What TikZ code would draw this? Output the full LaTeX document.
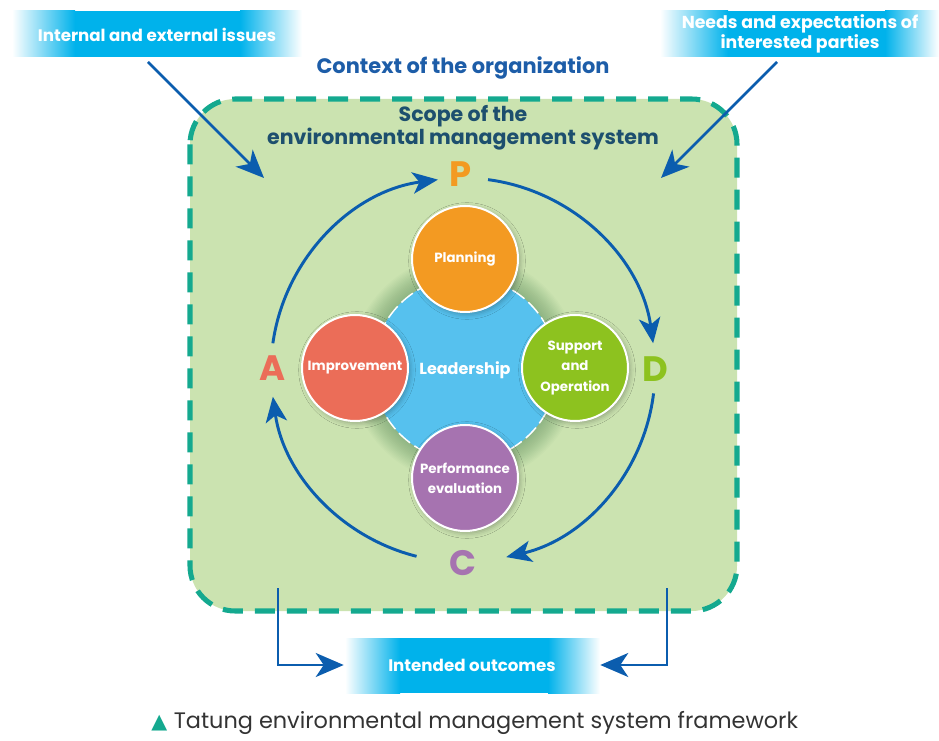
\documentclass[tikz,border=0pt]{standalone}
\usepackage{fontspec}
\setmainfont{Poppins}
\newfontfamily\symfont{DejaVu Sans}
\usetikzlibrary{arrows.meta,shadows.blur,calc}
\definecolor{bgreen}{HTML}{CBE3B0}
\definecolor{bteal}{HTML}{14A98F}
\definecolor{barrow}{HTML}{0B5DAE}
\definecolor{bcyan}{HTML}{00B2EB}
\definecolor{cplan}{HTML}{F39A22}
\definecolor{cimpr}{HTML}{EB6D58}
\definecolor{csupp}{HTML}{8DC21F}
\definecolor{cperf}{HTML}{A673B0}
\definecolor{clead}{HTML}{56C1EE}
\definecolor{ctitle}{HTML}{1D5DA8}
\definecolor{cscope}{HTML}{1D4F6E}
\definecolor{ccap}{HTML}{333333}
\definecolor{glow}{HTML}{3E7A4A}
\begin{document}
\begin{tikzpicture}[x=0.75pt,y=-0.75pt,
  bannertext/.style={text=white,font=\bfseries\fontsize{12.5}{14}\selectfont,align=center,inner sep=0pt},
  phase/.style={circle,draw=white,line width=1.5pt,minimum size=79.5pt,inner sep=0pt,text=white,
    font=\bfseries\fontsize{10}{15.5}\selectfont,align=center,
    blur shadow={shadow xshift=1.5pt,shadow yshift=-1.5pt,shadow blur radius=4pt,shadow opacity=30}},
  pdca/.style={font=\bfseries\fontsize{26.5}{28}\selectfont,inner sep=0pt},
  cyclearrow/.style={draw=barrow,line width=2.2pt,-{Stealth[length=19pt,width=16pt,inset=5pt]}},
  inarrow/.style={draw=barrow,line width=1.9pt,-{Stealth[length=21pt,width=18pt,inset=6pt]}},
  outarrow/.style={draw=barrow,line width=1.9pt,-{Stealth[length=21pt,width=18pt,inset=6pt]}},
]
\useasboundingbox (0,0) rectangle (939,741);
% scope box
\draw[fill=bgreen,draw=bteal,line width=3.8pt,dash pattern=on 15pt off 9pt,rounded corners=34pt]
  (190,99) rectangle (737,611);
% banners
\shade[left color=white,right color=bcyan] (12,11) rectangle (75,57);
\fill[bcyan] (75,11) rectangle (240,57);
\shade[left color=bcyan,right color=white] (240,11) rectangle (302,57);
\shade[left color=white,right color=bcyan] (660,11) rectangle (728,57);
\fill[bcyan] (728,11) rectangle (885,57);
\shade[left color=bcyan,right color=white] (885,11) rectangle (939,57);
\shade[left color=white,right color=bcyan] (345,638) rectangle (400,693);
\fill[bcyan] (400,638) rectangle (548,693);
\shade[left color=bcyan,right color=white] (548,638) rectangle (600,693);
\node[bannertext] (issues) at (157,35) {Internal and external issues};
\node[bannertext,font=\bfseries\fontsize{13}{14.5}\selectfont] (needs) at (800,34) {Needs and expectations of\\interested parties};
\node[bannertext] (outcomes) at (472,665) {Intended outcomes};
\node[bannertext,minimum width=192pt,minimum height=41pt] (outbox) at (472,665) {};
% titles
\node[text=ctitle,font=\bfseries\fontsize{15.7}{18}\selectfont] (context) at (463,68) {Context of the organization};
\node[text=cscope,font=\bfseries\fontsize{15.4}{15.5}\selectfont,align=center] (scope) at (463,128) {Scope of the\\environmental management system};
% leadership glow
\coordinate (ctr) at (465,369);
\foreach \r in {70,71,...,86}{
  \fill[glow,opacity=0.028] (ctr) circle[radius=\r pt];
}
\node[circle,fill=clead,minimum size=138pt,inner sep=0pt] (lead) at (ctr) {};
\draw[white,line width=1.1pt,dash pattern=on 11pt off 4pt] (lead) circle[radius=69pt];
\node[text=white,font=\bfseries\fontsize{12}{14}\selectfont] (leadtext) at (465,370) {Leadership};
\node[phase,fill=cplan] (plan) at (465,259) {Planning};
\node[phase,fill=cimpr] (impr) at (355,368) {Improvement};
\node[phase,fill=csupp] (supp) at (575,368) {Support\\and\\Operation};
\node[phase,fill=cperf,font=\bfseries\fontsize{10}{15}\selectfont] (perf) at (465,478) {Performance\\evaluation};
% PDCA letters
\node[pdca,text=cplan] (P) at (461,174) {P};
\node[pdca,text=csupp] (D) at (655,369) {D};
\node[pdca,text=cperf] (C) at (463,563) {C};
\node[pdca,text=cimpr] (A) at (273,368) {A};
% cycle arrows
\coordinate (cc) at (463,370);
\draw[cyclearrow] ($(cc)+(172:144pt)$) arc[start angle=172,end angle=97.5,radius=144pt];
\draw[cyclearrow] ($(cc)+(82.5:144pt)$) arc[start angle=82.5,end angle=8,radius=144pt];
\draw[cyclearrow] ($(cc)+(-7:144pt)$) arc[start angle=-7,end angle=-77,radius=144pt];
\draw[cyclearrow] ($(cc)+(-104:144pt)$) arc[start angle=-104,end angle=-172,radius=144pt];
% input arrows
\coordinate (s1) at (148,62);
\coordinate (t1) at (264,178);
\coordinate (s2) at (777,62);
\coordinate (t2) at (661,178);
\draw[inarrow] (s1) -- (t1);
\draw[inarrow] (s2) -- (t2);
% output arrows
\coordinate (o1) at (278,588);
\coordinate (o2) at (667,588);
\draw[outarrow] (o1) |- (outbox.west);
\draw[outarrow] (o2) |- (outbox.east);
% caption
\node[anchor=west,text=ccap,font=\fontsize{16.8}{18}\selectfont,inner sep=0pt] (caption) at (151,723)
  {{\symfont\color{bteal}\fontsize{15.5}{16}\selectfont▲}\hspace{5pt}Tatung environmental management system framework};
\end{tikzpicture}
\end{document}
